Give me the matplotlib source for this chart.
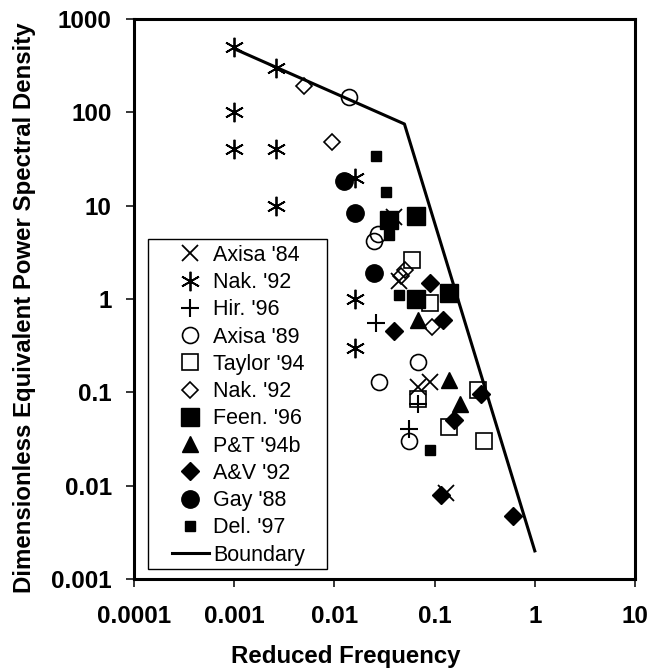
import matplotlib
matplotlib.use("Agg")
import matplotlib.pyplot as plt
from matplotlib.patches import Rectangle

plt.rcParams['font.family'] = ['Liberation Sans', 'DejaVu Sans']

# ---- data (reduced frequency, dimensionless PSD) ----
axisa84_x = [0.039, 0.044, 0.068, 0.091, 0.13]
axisa84_y = [7.5, 1.55, 0.115, 0.129, 0.0083]

nak92a_x = [0.001, 0.001, 0.001, 0.0026, 0.0026, 0.0026, 0.016, 0.016, 0.016]
nak92a_y = [500, 100, 40, 300, 40, 10, 20, 1.0, 0.3]

hir96_x = [0.026, 0.069, 0.055]
hir96_y = [0.55, 0.075, 0.04]

axisa89_x = [0.014, 0.027, 0.025, 0.068, 0.028, 0.056]
axisa89_y = [145, 5.0, 4.2, 0.21, 0.13, 0.03]

taylor94_x = [0.06, 0.09, 0.069, 0.27, 0.14, 0.31]
taylor94_y = [2.6, 0.9, 0.085, 0.105, 0.043, 0.03]

nak92b_x = [0.005, 0.0095, 0.051, 0.046, 0.095]
nak92b_y = [190, 48, 2.05, 1.76, 0.5]

feen96_x = [0.035, 0.065, 0.065, 0.14]
feen96_y = [7.0, 7.8, 1.0, 1.15]

pt94b_x = [0.068, 0.14, 0.18]
pt94b_y = [0.6, 0.135, 0.075]

av92_x = [0.09, 0.12, 0.039, 0.29, 0.155, 0.115, 0.6]
av92_y = [1.5, 0.6, 0.45, 0.095, 0.05, 0.008, 0.0047]

gay88_x = [0.0125, 0.016, 0.025]
gay88_y = [18.5, 8.3, 1.9]

del97_x = [0.026, 0.033, 0.035, 0.044, 0.09]
del97_y = [34, 14, 4.8, 1.1, 0.024]

boundary_x = [0.001, 0.05, 1.0]
boundary_y = [480, 75, 0.002]

xticks = [0.0001, 0.001, 0.01, 0.1, 1, 10]
xtick_labels = ['0.0001', '0.001', '0.01', '0.1', '1', '10']
yticks = [0.001, 0.01, 0.1, 1, 10, 100, 1000]
ytick_labels = ['0.001', '0.01', '0.1', '1', '10', '100', '1000']

# ---- figure ----
fig = plt.figure(figsize=(6.5, 6.69), dpi=100)
ax = fig.add_axes([134 / 650, (669 - 579) / 669, 501 / 650, 560 / 669])
ax.set_xscale('log')
ax.set_yscale('log')
ax.set_xlim(0.0001, 10)
ax.set_ylim(0.001, 1000)

ax.plot(boundary_x, boundary_y, color='black', lw=2.2, zorder=1, label='_nolegend_')

k = dict(linestyle='none', color='black', zorder=3)
h_ax84, = ax.plot(axisa84_x, axisa84_y, marker='x', ms=12, mew=1.3, **k)
h_nak1, = ax.plot(nak92a_x, nak92a_y, marker=(6, 2, 0), ms=14, mew=1.3, **k)
h_hir, = ax.plot(hir96_x, hir96_y, marker='+', ms=13, mew=1.5, **k)
h_ax89, = ax.plot(axisa89_x, axisa89_y, marker='o', ms=11.5, mew=1.2, mfc='none', **k)
h_tay, = ax.plot(taylor94_x, taylor94_y, marker='s', ms=12, mew=1.2, mfc='none', **k)
h_nak2, = ax.plot(nak92b_x, nak92b_y, marker='D', ms=8.5, mew=1.2, mfc='none', **k)
h_feen, = ax.plot(feen96_x, feen96_y, marker='s', ms=12.5, **k)
h_pt, = ax.plot(pt94b_x, pt94b_y, marker='^', ms=12, **k)
h_av, = ax.plot(av92_x, av92_y, marker='D', ms=9, **k)
h_gay, = ax.plot(gay88_x, gay88_y, marker='o', ms=12.5, **k)
h_del, = ax.plot(del97_x, del97_y, marker='s', ms=7, **k)
h_bnd, = ax.plot([], [], color='black', lw=2.2)

handles = [h_ax84, h_nak1, h_hir, h_ax89, h_tay, h_nak2, h_feen, h_pt, h_av, h_gay, h_del, h_bnd]
labels = ["Axisa '84", "Nak. '92", "Hir. '96", "Axisa '89", "Taylor '94", "Nak. '92",
          "Feen. '96", "P&T '94b", "A&V '92", "Gay '88", "Del. '97", "Boundary"]

# legend frame
ax.add_patch(Rectangle((14 / 501, 10 / 560), 179 / 501, 330 / 560, transform=ax.transAxes,
                       facecolor='white', edgecolor='black', lw=1.0, zorder=4))
leg = ax.legend(handles, labels, loc='upper left', bbox_to_anchor=(38 / 501, (579 - 245) / 560),
                frameon=False, borderpad=0, borderaxespad=0, fontsize=15.5,
                handlelength=1.7, handletextpad=0.2, labelspacing=0.29, numpoints=1)
leg.set_zorder(5)

ax.set_xticks(xticks)
ax.set_xticklabels(xtick_labels)
ax.set_yticks(yticks)
ax.set_yticklabels(ytick_labels)
ax.minorticks_off()
ax.tick_params(axis='both', which='major', direction='out', length=6, width=1.1,
               labelsize=17.5)
ax.tick_params(axis='x', pad=13)
ax.tick_params(axis='y', pad=10)
for lab in ax.get_xticklabels() + ax.get_yticklabels():
    lab.set_fontweight('bold')
for s in ax.spines.values():
    s.set_linewidth(2.2)

ax.set_xlabel('Reduced Frequency', fontsize=17.3, fontweight='bold')
ax.set_ylabel('Dimensionless Equivalent Power Spectral Density', fontsize=17.3,
              fontweight='bold')
ax.xaxis.set_label_coords(0.423, -0.118)
ax.yaxis.set_label_coords(-0.195, 0.484)

fig.savefig('out.png', dpi=100)
